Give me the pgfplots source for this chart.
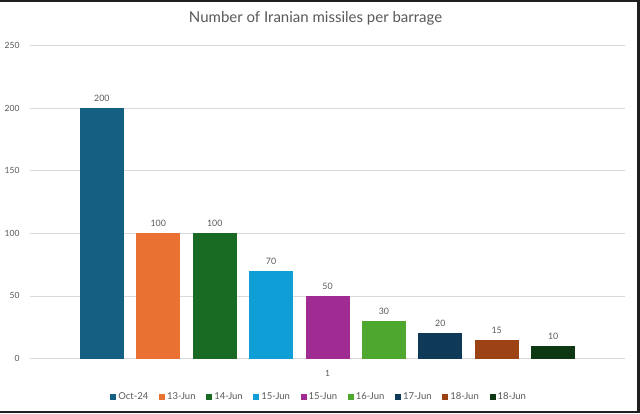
\documentclass[border=0pt]{standalone}
\usepackage{pgfplots}
\pgfplotsset{compat=1.18}
\usepackage{fontspec}
\setmainfont{Lato}
\definecolor{c1}{HTML}{156082}
\definecolor{c2}{HTML}{E97132}
\definecolor{c3}{HTML}{196B24}
\definecolor{c4}{HTML}{0F9ED5}
\definecolor{c5}{HTML}{A02B93}
\definecolor{c6}{HTML}{4EA72E}
\definecolor{c7}{HTML}{0F3A57}
\definecolor{c8}{HTML}{9C4214}
\definecolor{c9}{HTML}{0E3814}
\definecolor{txt}{HTML}{595959}
\definecolor{grd}{HTML}{D9D9D9}
\begin{document}
\begin{tikzpicture}[x=1pt,y=1pt]
\path[use as bounding box] (0,0) rectangle (640,413);
\fill[white] (0,0) rectangle (640,413);
\begin{axis}[
  at={(30pt,54.5pt)}, anchor=south west,
  scale only axis, width=595pt, height=313pt,
  ybar=12.4pt, bar width=44pt,
  xmin=0, xmax=2, ymin=0, ymax=250,
  ytick={0,50,100,150,200,250},
  xtick={1}, xticklabels={1},
  axis line style={draw=none},
  major tick length=0pt,
  ymajorgrids, grid style={grd, line width=0.8pt},
  tick label style={font=\fontsize{8.5}{10}\selectfont, text=txt},
  yticklabel style={xshift=-7pt},
  xticklabel style={yshift=-8pt},
  /pgf/number format/assume math mode=true,
  title={\fontsize{15}{18}\selectfont\color{txt}Number of Iranian missiles per barrage},
  title style={at={(0.48,1)}, anchor=center, yshift=21pt},
  nodes near coords,
  every node near coord/.append style={font=\fontsize{8.8}{10}\selectfont, text=txt, yshift=3pt},
  legend columns=9,
  legend style={at={(0.486,-0.123)}, anchor=center, draw=none, fill=none,
    font=\fontsize{9.5}{11}\selectfont, text=txt,
    /tikz/every even column/.append style={column sep=8.7pt}},
  lgsq/.style={legend image code/.code={\fill[##1] (0pt,-3pt) rectangle (6pt,3pt);}},
  clip=false,
]
\addplot[fill=c1, draw=none, lgsq] coordinates {(1,200)};
\addplot[fill=c2, draw=none, lgsq] coordinates {(1,100)};
\addplot[fill=c3, draw=none, lgsq] coordinates {(1,100)};
\addplot[fill=c4, draw=none, lgsq] coordinates {(1,70)};
\addplot[fill=c5, draw=none, lgsq] coordinates {(1,50)};
\addplot[fill=c6, draw=none, lgsq] coordinates {(1,30)};
\addplot[fill=c7, draw=none, lgsq] coordinates {(1,20)};
\addplot[fill=c8, draw=none, lgsq] coordinates {(1,15)};
\addplot[fill=c9, draw=none, lgsq] coordinates {(1,10)};
\legend{Oct-24,13-Jun,14-Jun,15-Jun,15-Jun,16-Jun,17-Jun,18-Jun,18-Jun}
\end{axis}
\fill[black!88] (0,411) rectangle (640,413);
\fill[black!88] (637,0) rectangle (640,413);
\fill[black!88] (0,0) rectangle (640,2);
\end{tikzpicture}
\end{document}
